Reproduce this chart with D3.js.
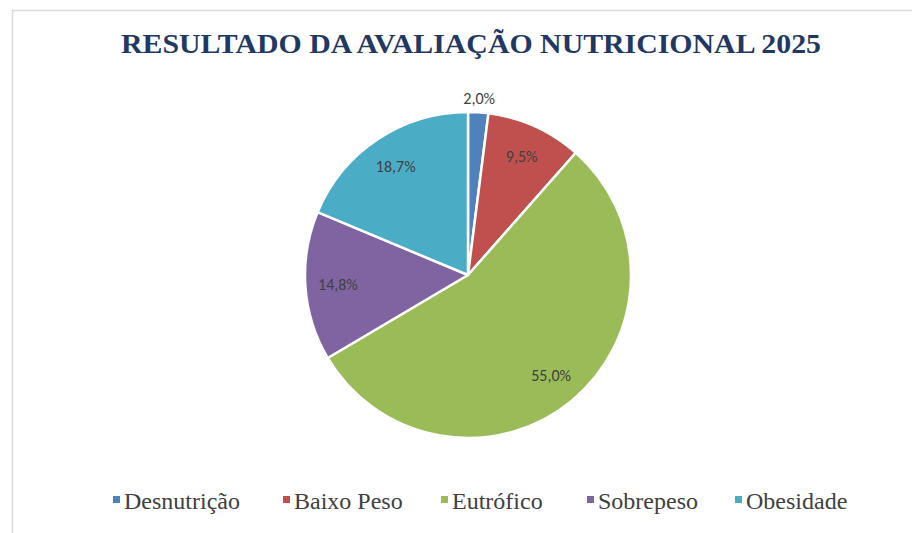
<!DOCTYPE html>
<html lang="pt">
<head>
<meta charset="utf-8">
<title>Resultado da Avaliação Nutricional 2025</title>
<script src="https://d3js.org/d3.v7.min.js"></script>
<style>
  body { margin: 0; background: #fff; }
  svg { display: block; }
</style>
</head>
<body>
<div id="chart"></div>
<script>
  // data
  var categories = ["Desnutrição", "Baixo Peso", "Eutrófico", "Sobrepeso", "Obesidade"];
  var values = [2.0, 9.5, 55.0, 14.8, 18.7];
  var colors = ["#4F81BD", "#C0504D", "#9BBB59", "#8064A2", "#4BACC6"];
  var title = "RESULTADO DA AVALIAÇÃO NUTRICIONAL 2025";

  var W = 912, H = 533;
  var cx = 468, cy = 275, r = 163;

  var svg = d3.select("#chart").append("svg")
    .attr("width", W).attr("height", H);

  // chart area border (runs off right/bottom)
  svg.append("rect")
    .attr("x", 12.5).attr("y", 10.5)
    .attr("width", W).attr("height", H)
    .attr("fill", "#fff")
    .attr("stroke", "#d9d9d9").attr("stroke-width", 1.5);

  svg.append("text")
    .attr("x", 471).attr("y", 53)
    .attr("text-anchor", "middle")
    .attr("textLength", 700)
    .attr("lengthAdjust", "spacingAndGlyphs")
    .style("font-family", "'Liberation Serif', 'DejaVu Serif', serif")
    .style("font-weight", "bold")
    .style("font-size", "27px")
    .attr("fill", "#1F3864")
    .text(title);

  var data = categories.map(function (c, i) {
    return { name: c, value: values[i], color: colors[i] };
  });

  var pie = d3.pie().sort(null).value(function (d) { return d.value; });
  var arc = d3.arc().innerRadius(0).outerRadius(r);
  var arcs = pie(data);

  var g = svg.append("g").attr("transform", "translate(" + cx + "," + cy + ")");

  g.selectAll("path.slice")
    .data(arcs)
    .enter().append("path")
    .attr("class", "slice")
    .attr("d", arc)
    .attr("fill", function (d) { return d.data.color; })
    .attr("stroke", "#fff")
    .attr("stroke-width", 2.5)
    .attr("stroke-linejoin", "round");

  // data labels: small slice outside, rest inside
  var inner = d3.arc().innerRadius(r * 0.8).outerRadius(r * 0.8);
  var outer = d3.arc().innerRadius(r + 14).outerRadius(r + 14);
  var fmt = function (v) { return v.toFixed(1).replace(".", ",") + "%"; };

  g.selectAll("text.lbl")
    .data(arcs)
    .enter().append("text")
    .attr("class", "lbl")
    .attr("transform", function (d) {
      var p = d.data.value < 5 ? outer.centroid(d) : inner.centroid(d);
      return "translate(" + p[0] + "," + p[1] + ")";
    })
    .attr("text-anchor", "middle")
    .attr("dy", "0.35em")
    .style("font-family", "Carlito, 'Liberation Sans', 'DejaVu Sans', sans-serif")
    .style("font-size", "16px")
    .attr("fill", "#404040")
    .text(function (d) { return fmt(d.data.value); });

  // legend
  var legX = [113, 283, 441, 587, 735];
  var leg = svg.append("g").attr("transform", "translate(0,502)");
  var items = leg.selectAll("g.item")
    .data(data)
    .enter().append("g")
    .attr("class", "item")
    .attr("transform", function (d, i) { return "translate(" + legX[i] + ",0)"; });

  items.append("rect")
    .attr("x", 0).attr("y", -6)
    .attr("width", 7).attr("height", 7)
    .attr("fill", function (d) { return d.color; });

  items.append("text")
    .attr("x", 11).attr("y", 0)
    .attr("dy", "0.3em")
    .style("font-family", "'Liberation Serif', 'DejaVu Serif', serif")
    .style("font-size", "24px")
    .attr("fill", "#404040")
    .text(function (d) { return d.name; });
</script>
</body>
</html>
